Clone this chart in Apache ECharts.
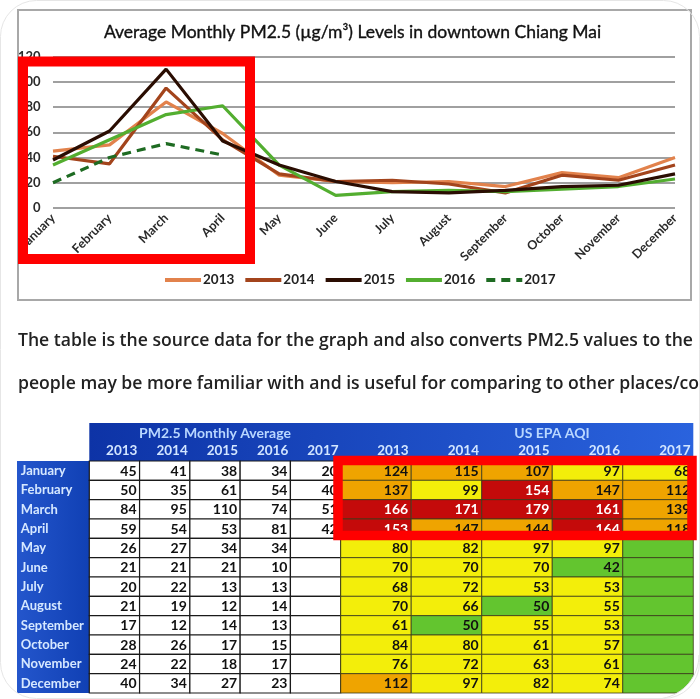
<!DOCTYPE html>
<html><head><meta charset="utf-8">
<script src="https://cdn.jsdelivr.net/npm/echarts@6/dist/echarts.min.js"></script>
<style>html,body{margin:0;padding:0;background:#fff;overflow:hidden}#c{width:700px;height:699px}</style>
</head><body><div id="c"></div><script>
// ---------- data ----------
const months = ['January','February','March','April','May','June','July','August','September','October','November','December'];
const years = ['2013','2014','2015','2016','2017'];
const yTicks = [0, 20, 40, 60, 80, 100, 120];

const pm2013 = [45,50,84,59,26,21,20,21,17,28,24,40];
const pm2014 = [41,35,95,54,27,21,22,19,12,26,22,34];
const pm2015 = [38,61,110,53,34,21,13,12,14,17,18,27];
const pm2016 = [34,54,74,81,34,10,13,14,13,15,17,23];
const pm2017 = [20,40,51,42,null,null,null,null,null,null,null,null];

const aqi2013 = [124,137,166,153,80,70,68,70,61,84,76,112];
const aqi2014 = [115,99,171,147,82,70,72,66,50,80,72,97];
const aqi2015 = [107,154,179,144,97,70,53,50,55,61,63,82];
const aqi2016 = [97,147,161,164,97,42,53,55,53,57,61,74];
const aqi2017 = [68,112,139,118,null,null,null,null,null,null,null,null];

const chartTitle = 'Average Monthly PM2.5 (\u00b5g/m\u00b3) Levels in downtown Chiang Mai';
const tablePmTitle = 'PM2.5 Monthly Average';
const tableAqiTitle = 'US EPA AQI';
const paraLine1 = 'The table is the source data for the graph and also converts PM2.5 values to the';
const paraLine2 = 'people may be more familiar with and is useful for comparing to other places/countries.';

// ---------- styling ----------
const pmSeries = [pm2013, pm2014, pm2015, pm2016, pm2017];
const aqiSeries = [aqi2013, aqi2014, aqi2015, aqi2016, aqi2017];
const lineColors = ['#e2824c', '#a3441c', '#2a0d02', '#53ae30', '#1e6b22'];

function aqiColor(v) {
  if (v == null) return '#63c52f';
  if (v <= 50) return '#63c52f';
  if (v <= 100) return '#f3ee0a';
  if (v <= 150) return '#efa400';
  return '#c40a0a';
}

const cells = [];
for (let c = 0; c < years.length; c++) for (let r = 0; r < months.length; r++) cells.push([c, r]);

function cellRender(kind) {
  return function (params, api) {
    const c = api.value(0), r = api.value(1);
    const p = api.coord([c, r]);
    const s = api.size([1, 1]);
    const x = p[0] - s[0] / 2, y = p[1] - s[1] / 2;
    const v = kind === 'pm' ? pmSeries[c][r] : aqiSeries[c][r];
    const fill = kind === 'pm' ? '#ffffff' : aqiColor(v);
    const tcol = (kind === 'aqi' && v != null && v > 150) ? '#ffffff' : '#111111';
    return {
      type: 'group',
      children: [
        { type: 'rect', shape: { x: x, y: y, width: s[0], height: s[1] },
          style: { fill: fill, stroke: kind === 'pm' ? '#1a1a1a' : '#3a3a1a', lineWidth: kind === 'pm' ? 1.2 : 0.8 } },
        { type: 'text', style: { text: v == null ? '' : String(v), x: x + s[0] - 3, y: p[1] + 0.5,
          align: 'right', verticalAlign: 'middle', fill: tcol, font: 'bold 14px Lato' } }
      ]
    };
  };
}

const blueGradH = new echarts.graphic.LinearGradient(0, 0, 1, 1, [
  { offset: 0, color: '#0d33a6' }, { offset: 1, color: '#2a63de' }]);
const blueGradV = new echarts.graphic.LinearGradient(0, 0, 1, 0, [
  { offset: 0, color: '#2456cc' }, { offset: 1, color: '#1040b4' }]);

const arcPts = [[700, 699], [700, 655]];
for (let i = 0; i <= 18; i++) {
  const t = (i / 18) * Math.PI / 2;
  arcPts.push([655 + 44 * Math.cos(t), 655 + 44 * Math.sin(t)]);
}
const arcLine = arcPts.slice(2);

const chart = echarts.init(document.getElementById('c'), null, { renderer: 'canvas' });
chart.setOption({
  animation: false,
  backgroundColor: '#ffffff',
  grid: [
    { left: 53, top: 56.5, width: 622, height: 151.5, outerBoundsMode: 'none', containLabel: false },
    { left: 89.3, top: 461, width: 251.4, height: 232, outerBoundsMode: 'none', containLabel: false },
    { left: 340.7, top: 461, width: 352.6, height: 232, outerBoundsMode: 'none', containLabel: false }
  ],
  legend: {
    data: years, left: 163, top: 273, padding: 0, itemWidth: 36, itemHeight: 14, itemGap: 9,
    selectedMode: false,
    itemStyle: { color: 'rgba(0,0,0,0)', borderWidth: 0, opacity: 0 },
    lineStyle: { width: 4 },
    textStyle: { fontFamily: 'Lato', fontWeight: 'bold', fontSize: 13.5, color: '#222', padding: [0, 0, 0, -3] }
  },
  xAxis: [
    { gridIndex: 0, type: 'category', data: months, boundaryGap: false,
      axisLine: { show: false }, axisTick: { show: false }, splitLine: { show: false },
      axisLabel: { interval: 0, rotate: 45, margin: 8, fontFamily: 'Lato', fontWeight: 'bold', fontSize: 12.5, color: '#2a2a2a' } },
    { gridIndex: 1, type: 'category', data: years, position: 'top', z: 5,
      axisLine: { show: false }, axisTick: { show: false }, splitLine: { show: false },
      axisLabel: { interval: 0, margin: 3, formatter: v => '{a|' + v + '}',
        rich: { a: { width: 46, align: 'right', color: '#d3e6ff', fontFamily: 'Lato', fontWeight: 'bold', fontSize: 13.5 } } } },
    { gridIndex: 2, type: 'category', data: years, position: 'top', z: 5,
      axisLine: { show: false }, axisTick: { show: false }, splitLine: { show: false },
      axisLabel: { interval: 0, margin: 3, formatter: v => '{a|' + v + '}',
        rich: { a: { width: 65, align: 'right', color: '#d3e6ff', fontFamily: 'Lato', fontWeight: 'bold', fontSize: 13.5 } } } }
  ],
  yAxis: [
    { gridIndex: 0, type: 'value', min: yTicks[0], max: yTicks[yTicks.length - 1], interval: 20,
      axisLine: { show: false }, axisTick: { show: false },
      splitLine: { show: true, lineStyle: { color: '#a0a0a0', width: 1.8 } },
      axisLabel: { margin: 12.5, fontFamily: 'Lato', fontWeight: 'bold', fontSize: 13, color: '#2a2a2a' } },
    { gridIndex: 1, type: 'category', data: months, inverse: true, z: 5,
      axisLine: { show: false }, axisTick: { show: false }, splitLine: { show: false },
      axisLabel: { interval: 0, align: 'left', margin: 68.5, fontFamily: 'Lato', fontWeight: 'bold', fontSize: 13, color: '#d6e8ff' } },
    { gridIndex: 2, type: 'category', data: months, inverse: true, show: false }
  ],
  series: [
    ...years.map((y, i) => ({
      type: 'line', name: y, data: pmSeries[i], xAxisIndex: 0, yAxisIndex: 0,
      symbol: 'none', connectNulls: false, z: 3 + (i === 2 ? 2 : 0),
      lineStyle: { width: 3.2, color: lineColors[i], type: i === 4 ? [9, 6] : 'solid' },
      itemStyle: { color: lineColors[i] }
    })),
    { type: 'custom', name: 'pmTable', xAxisIndex: 1, yAxisIndex: 1, data: cells, renderItem: cellRender('pm'), z: 3 },
    { type: 'custom', name: 'aqiTable', xAxisIndex: 2, yAxisIndex: 2, data: cells, renderItem: cellRender('aqi'), z: 3 }
  ],
  graphic: [
    { type: 'rect', z: -1, shape: { x: 18, y: 10, width: 673, height: 290 }, style: { fill: 'none', stroke: '#a8a8a8', lineWidth: 2 } },
    { type: 'text', z: 10, style: { text: chartTitle, x: 352.5, y: 32, align: 'center', verticalAlign: 'middle',
      font: '17.5px Lato', fill: '#111', stroke: '#111', lineWidth: 0.35 } },
    { type: 'text', z: 10, style: { text: paraLine1, x: 18, y: 341, align: 'left', verticalAlign: 'middle',
      font: '600 17.6px "Open Sans"', fill: '#222' } },
    { type: 'text', z: 10, style: { text: paraLine2, x: 18, y: 384, align: 'left', verticalAlign: 'middle',
      font: '600 17.6px "Open Sans"', fill: '#222' } },
    { type: 'rect', z: -1, shape: { x: 89.3, y: 423, width: 604, height: 38 }, style: { fill: blueGradH } },
    { type: 'rect', z: -1, shape: { x: 17, y: 461, width: 72.3, height: 232 }, style: { fill: blueGradV } },
    { type: 'text', z: 10, style: { text: tablePmTitle, x: 215, y: 433, align: 'center', verticalAlign: 'middle',
      font: 'bold 14px Lato', fill: '#b9d7ff' } },
    { type: 'text', z: 10, style: { text: tableAqiTitle, x: 552, y: 433, align: 'center', verticalAlign: 'middle',
      font: 'bold 14px Lato', fill: '#b9d7ff' } },
    { type: 'rect', z: 50, shape: { x: 23, y: 61.5, width: 227, height: 197.5 }, style: { fill: 'none', stroke: '#ff0000', lineWidth: 10 } },
    { type: 'rect', z: 50, shape: { x: 338, y: 460.5, width: 354, height: 75 }, style: { fill: 'none', stroke: '#ff0000', lineWidth: 9.5 } },
    { type: 'polygon', z: 60, shape: { points: arcPts }, style: { fill: '#ffffff' } },
    { type: 'polyline', z: 61, shape: { points: arcLine }, style: { stroke: '#e2e2e2', lineWidth: 1, fill: 'none' } },
    { type: 'rect', z: 61, shape: { x: 0.5, y: 0.5, width: 699, height: 698, r: 36 }, style: { fill: 'none', stroke: '#e6e6e6', lineWidth: 1 } }
  ]
});
</script></body></html>
